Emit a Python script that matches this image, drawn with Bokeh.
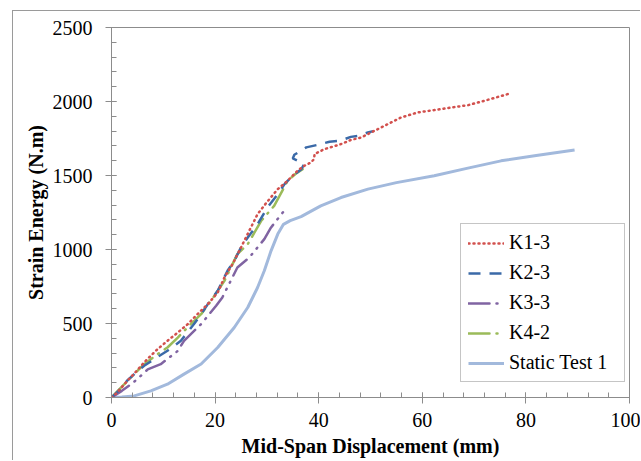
from bokeh.plotting import figure
from bokeh.models import Range1d, SingleIntervalTicker, Legend, LegendItem
from bokeh.embed import file_html
from bokeh.resources import INLINE

# ---- data ----
k13_x = [0, 1, 3, 5, 6.6, 8.9, 10.8, 12.8, 14.7, 16.6, 18.6, 20.5, 21.8, 23.5, 25.0, 26.5, 28.2,
         30.0, 32.1, 34.0, 35.9, 37.2, 38.5, 39.1, 39.2, 41.1, 44.3, 46.2, 48.2, 49.5, 51.4, 52.7,
         55.9, 59.1, 62.3, 65.6, 68.8, 72.0, 74.5, 77.2]
k13_y = [0, 30, 110, 185, 248, 327, 383, 439, 495, 563, 631, 709, 811, 910, 1014, 1120, 1239,
         1320, 1408, 1464, 1532, 1565, 1588, 1611, 1645, 1678, 1712, 1740, 1757, 1780, 1813, 1836,
         1892, 1926, 1942, 1959, 1975, 2005, 2030, 2057]

k23_x = [0, 1.5, 3, 4.4, 6.3, 8.5, 10.8, 13.4, 16, 17.3, 18.6, 20.5, 22.4, 23.7, 25.0, 26.3, 28.2,
         30.1, 32.1, 33.4, 35, 36.6, 37.2, 35.0, 35.3, 37.6, 39.8, 42.1, 44.0, 46.2, 47.8, 49.5, 50.5]
k23_y = [0, 50, 113, 158, 214, 265, 316, 383, 500, 563, 631, 721, 856, 924, 1014, 1081, 1171,
         1284, 1374, 1442, 1500, 1540, 1577, 1615, 1640, 1690, 1707, 1728, 1734, 1761, 1768, 1791, 1800]

k33_x = [0, 2, 4, 5.3, 7.0, 9.5, 12.8, 14.0, 17.3, 20.2, 21.4, 24.3, 26.6, 29.5, 30.8, 33.4]
k33_y = [0, 45, 95, 135, 190, 225, 315, 383, 496, 620, 676, 878, 946, 1070, 1149, 1265]

k42_x = [0, 1.2, 4.4, 6.3, 8.9, 10.8, 12.8, 15.3, 17.3, 19.2, 21.8, 24.3, 26.3, 28.9, 31.4, 34.0, 35.5, 36.9]
k42_y = [0, 45, 158, 225, 293, 338, 405, 496, 563, 653, 788, 969, 1036, 1194, 1295, 1464, 1510, 1543]

st1_x = [0, 2, 4.4, 7.6, 10.8, 14.0, 17.3, 20.5, 23.7, 26.3, 28.2, 29.5, 30.8, 32.1, 33.2, 34.5,
         36.6, 40.4, 44.3, 49.5, 55, 62.3, 68.8, 75.2, 82, 89.4]
st1_y = [0, 3, 11, 45, 90, 158, 226, 338, 473, 608, 743, 856, 991, 1104, 1170, 1195,
         1222, 1295, 1351, 1408, 1452, 1498, 1550, 1599, 1635, 1672]

series_names = ["K1-3", "K2-3", "K3-3", "K4-2", "Static Test 1"]

FONT = "Liberation Serif"
GRAY = "#8c8c8c"

# canvas starts at (13, 11) inside a 1px left/top border drawn by CSS
p = figure(width=628, height=450, output_backend="svg", toolbar_location=None,
           x_range=Range1d(0, 100), y_range=Range1d(0, 2500),
           min_border_left=98, min_border_right=12, min_border_top=16, min_border_bottom=64,
           margin=(10, 0, 0, 12),
           styles={"border-left": "1px solid #9a9a9a", "border-top": "1px solid #9a9a9a"})
p.background_fill_color = "white"
p.border_fill_color = "white"
p.outline_line_color = GRAY
p.outline_line_width = 1
p.grid.visible = False

for ax in (p.xaxis[0], p.yaxis[0]):
    ax.axis_line_color = GRAY
    ax.major_tick_line_color = GRAY
    ax.minor_tick_line_color = GRAY
    ax.major_tick_in = 5
    ax.major_tick_out = 6
    ax.minor_tick_in = 5
    ax.minor_tick_out = 0
    ax.major_label_text_font = FONT
    ax.major_label_text_font_size = "20px"
    ax.major_label_text_color = "black"
    ax.axis_label_text_font = FONT
    ax.axis_label_text_font_size = "20px"
    ax.axis_label_text_font_style = "bold"
    ax.axis_label_text_color = "black"

p.xaxis[0].ticker = SingleIntervalTicker(interval=20, num_minor_ticks=5)
p.yaxis[0].ticker = SingleIntervalTicker(interval=500, num_minor_ticks=5)
p.xaxis[0].axis_label = "Mid-Span Displacement (mm)"
p.yaxis[0].axis_label = "Strain Energy (N.m)"
p.xaxis[0].major_label_standoff = 9
p.yaxis[0].major_label_standoff = 13
p.xaxis[0].axis_label_standoff = 5
p.yaxis[0].axis_label_standoff = 3

r_st = p.line(st1_x, st1_y, line_color="#a2b9dc", line_width=3)
r_42 = p.line(k42_x, k42_y, line_color="#9bbb59", line_width=2.5, line_dash="21 7 1 7", line_cap="round")
r_33 = p.line(k33_x, k33_y, line_color="#8064a2", line_width=2.5, line_dash="21 7 1 7 1 7", line_cap="round")
r_23 = p.line(k23_x, k23_y, line_color="#3b6aa8", line_width=2.5, line_dash="12 9")
r_13 = p.line(k13_x, k13_y, line_color="#d2504d", line_width=2.5, line_dash="1 4", line_cap="round")

legend = Legend(items=[LegendItem(label=series_names[0], renderers=[r_13]),
                       LegendItem(label=series_names[1], renderers=[r_23]),
                       LegendItem(label=series_names[2], renderers=[r_33]),
                       LegendItem(label=series_names[3], renderers=[r_42]),
                       LegendItem(label=series_names[4], renderers=[r_st])],
                location=(349, 15), orientation="vertical")
legend.label_text_font = FONT
legend.label_text_font_size = "20px"
legend.label_text_color = "black"
legend.border_line_color = GRAY
legend.border_line_width = 1
legend.background_fill_color = "white"
legend.background_fill_alpha = 1
legend.glyph_width = 36
legend.glyph_height = 20
legend.label_height = 20
legend.label_width = 108
legend.label_standoff = 5
legend.spacing = 7
legend.padding = 7
legend.margin = 0
p.add_layout(legend, "center")

open("out.html", "w").write(file_html(p, INLINE))
